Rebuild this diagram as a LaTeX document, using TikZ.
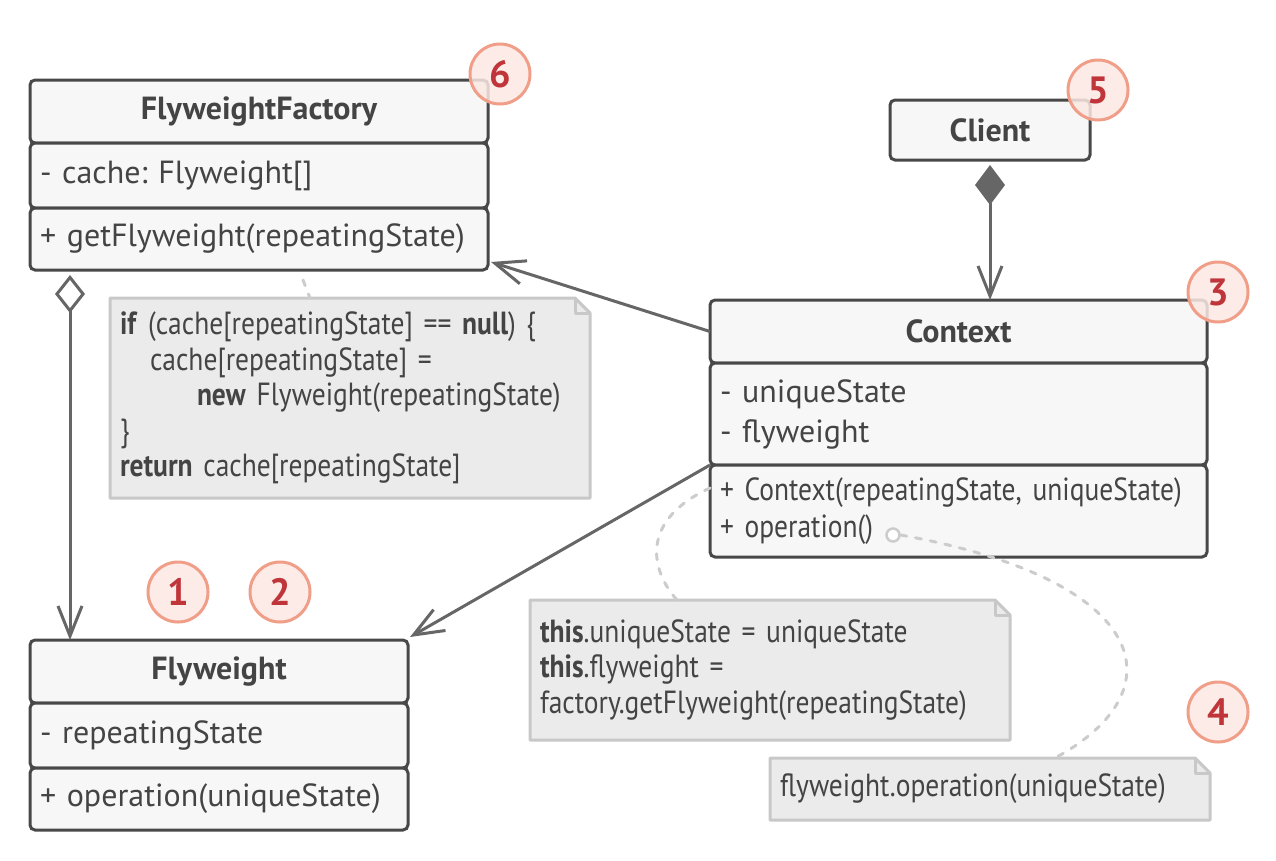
\documentclass[tikz,border=0pt]{standalone}
\usepackage{fontspec}
\setmainfont{PT Sans}
\newfontfamily\narrow[FakeStretch=0.86]{PT Sans}
\usetikzlibrary{arrows.meta}
\frenchspacing

\definecolor{boxline}{HTML}{484848}
\definecolor{boxfill}{HTML}{F7F7F7}
\definecolor{txt}{HTML}{444444}
\definecolor{linkc}{HTML}{666666}
\definecolor{notefill}{HTML}{EBEBEB}
\definecolor{noteline}{HTML}{C8C8C8}
\definecolor{dashc}{HTML}{CCCCCC}
\definecolor{badgefill}{HTML}{FBE8E3}
\definecolor{badgering}{HTML}{F09E88}
\definecolor{badgenum}{HTML}{C0353A}

\tikzset{
  part/.style={draw=boxline, fill=boxfill, line width=3pt, rounded corners=5pt,
    anchor=north west, outer sep=0pt, inner xsep=10pt, inner ysep=0pt, text=txt,
    font=\fontsize{32}{40}\selectfont},
  head/.style={part, font=\bfseries\fontsize{32}{36}\selectfont},
  body/.style={part, align=left},
  note/.style={fill=notefill, anchor=north west, outer sep=0pt, inner xsep=10pt,
    inner ysep=0pt, text=txt, align=left, font=\narrow\fontsize{32}{35.5}\selectfont},
  badge/.style={circle, draw=badgering, fill=badgefill, fill opacity=0.85,
    text opacity=1, line width=3pt, minimum size=60pt, inner sep=0pt,
    text=badgenum, font=\bfseries\fontsize{38}{38}\selectfont},
  link/.style={draw=linkc, line width=3pt},
  notelink/.style={draw=dashc, line width=3pt, dash pattern=on 6pt off 9pt,
    line cap=round},
  openhead/.style={-{Straight Barb[length=30pt,width=24pt]}},
}

% folded corner of a note
\newcommand\foldnote[1]{%
  \fill[white] ([xshift=-15pt]#1.north east) -- (#1.north east)
    -- ([yshift=-15pt]#1.north east) -- cycle;
  \draw[noteline, line width=3pt, line join=round] (#1.north west)
    -- ([xshift=-15pt]#1.north east) -- ([yshift=-15pt]#1.north east)
    -- (#1.south east) -- (#1.south west) -- cycle;
  \draw[noteline, line width=3pt, line join=round]
    ([xshift=-15pt]#1.north east) |- ([yshift=-15pt]#1.north east);
}

\begin{document}
\begin{tikzpicture}[x=1pt, y=-1pt]
\useasboundingbox (0,0) rectangle (1276,860);

% FlyweightFactory
\node[head, minimum width=458pt, minimum height=63pt] (ffHead) at (30,80) {FlyweightFactory};
\node[body, text width=438pt, minimum height=65pt] (ffAttr) at (ffHead.south west) {- cache: Flyweight[]};
\node[body, text width=438pt, minimum height=62pt] (ffMeth) at (ffAttr.south west) {+ getFlyweight(repeatingState)};

% Client
\node[head, minimum width=200pt, minimum height=60pt] (client) at (890,100) {Client};

% Context
\node[head, minimum width=497pt, minimum height=63pt] (ctxHead) at (710,300) {Context};
\node[body, text width=477pt, minimum height=102pt] (ctxAttr) at (ctxHead.south west) {- uniqueState\\- flyweight};
\node[body, text width=477pt, minimum height=92pt, font=\narrow\fontsize{32}{37}\selectfont] (ctxMeth) at (ctxAttr.south west) {+ Context(repeatingState, uniqueState)\\+ operation()};

% Flyweight
\node[head, minimum width=378pt, minimum height=63pt] (fwHead) at (30,640) {Flyweight};
\node[body, text width=358pt, minimum height=65pt] (fwAttr) at (fwHead.south west) {- repeatingState};
\node[body, text width=358pt, minimum height=62pt] (fwMeth) at (fwAttr.south west) {+ operation(uniqueState)};

% notes
\node[note, text width=460pt, minimum height=200pt] (note1) at (110,298) {%
  \textbf{if} (cache[repeatingState] == \textbf{null}) \{\\
  \hspace*{30pt}cache[repeatingState] =\\
  \hspace*{77pt}\textbf{new} Flyweight(repeatingState)\\
  \}\\
  \textbf{return} cache[repeatingState]};
\foldnote{note1}
\node[note, text width=460pt, minimum height=140pt] (note2) at (530,600) {%
  \textbf{this}.uniqueState = uniqueState\\
  \textbf{this}.flyweight =\\
  factory.getFlyweight(repeatingState)};
\foldnote{note2}
\node[note, text width=420pt, minimum height=62pt] (note3) at (770,758) {flyweight.operation(uniqueState)};
\foldnote{note3}

% relations
\draw[link, {Diamond[length=40pt,width=30pt]}-{Straight Barb[length=30pt,width=24pt]}]
  ([yshift=-5pt]client.south) -- (client.south |- ctxHead.north);
\draw[link, {Diamond[open,fill=white,length=38pt,width=30pt]}-{Straight Barb[length=30pt,width=24pt]}]
  ([xshift=40pt,yshift=-5pt]ffMeth.south west) -- ([xshift=40pt]fwHead.north west);
\draw[link, openhead] (ctxHead.west) -- ([xshift=3pt,yshift=8pt]ffMeth.south east);
\draw[link, openhead] (ctxAttr.south west) -- ([xshift=2pt,yshift=3pt]fwHead.north east);

% note links
\draw[notelink] ([xshift=44pt,yshift=-10pt]ffMeth.south) -- ([xshift=200pt]note1.north west);
\draw[notelink] ([yshift=-23pt]ctxMeth.north west) .. controls (640,520) and (650,570) .. ([xshift=147pt]note2.north west);
\node[draw=dashc, circle, line width=2.5pt, minimum size=13pt, inner sep=0pt, fill=white] (opDot) at (893,535) {};
\draw[notelink] (opDot.east) .. controls (1150,580) and (1180,690) .. ([xshift=285pt]note3.north west);

% badges
\node[badge] (b6) at (500,74) {6};
\node[badge] (b5) at (1098,90) {5};
\node[badge] (b3) at (1218,292) {3};
\node[badge] (b4) at (1218,712) {4};
\node[badge] (b1) at (178,592) {1};
\node[badge] (b2) at (280,592) {2};
\end{tikzpicture}
\end{document}
